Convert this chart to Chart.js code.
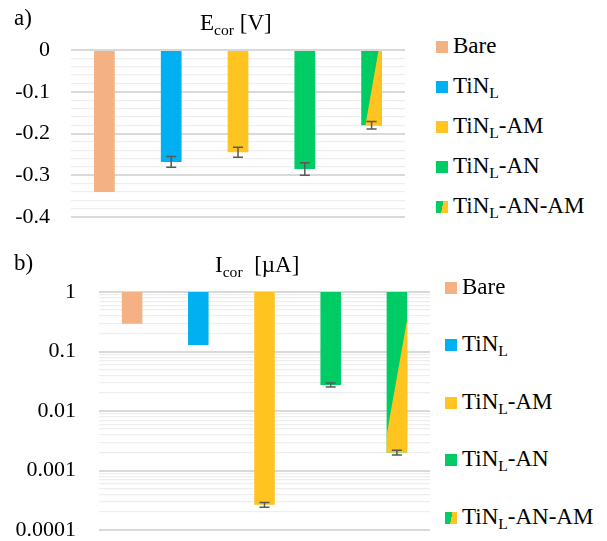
<!DOCTYPE html>
<html><head><meta charset="utf-8">
<script src="https://cdn.jsdelivr.net/npm/chart.js@4/dist/chart.umd.min.js"></script>
<style>
body{margin:0;width:607px;height:541px;position:relative;background:#fff;font-family:"Liberation Serif","Times New Roman",serif;overflow:hidden;color:#000}
.abs{position:absolute;white-space:nowrap}
.t{font-size:23px;line-height:22px}
sub{font-size:0.68em;vertical-align:-0.32em;line-height:0}
.sw{display:inline-block;width:12px;height:12px;margin-right:5px;vertical-align:baseline}
canvas{position:absolute;left:0}
</style>
</head><body>
<canvas id="c1" width="430" height="230" style="top:0px"></canvas>
<canvas id="c2" width="440" height="301" style="top:240px"></canvas>
<div id="overlay"></div>
<script>
// ---- data ----
const categories = ['Bare', 'TiN_L', 'TiN_L-AM', 'TiN_L-AN', 'TiN_L-AN-AM'];
const ecorValues = [-0.34, -0.268, -0.245, -0.285, -0.18];
const ecorErrors = [0, 0.013, 0.012, 0.015, 0.009];
const icorValues = [0.293, 0.129, 0.000266, 0.0274, 0.0020];
const icorErrors = [0, 0, 0.000024, 0.0022, 0.00018];
const ecorTickLabels = ['0', '-0.1', '-0.2', '-0.3', '-0.4'];
const icorTickLabels = ['1', '0.1', '0.01', '0.001', '0.0001'];
const legendLabels = ['Bare', 'TiN<sub>L</sub>', 'TiN<sub>L</sub>-AM', 'TiN<sub>L</sub>-AN', 'TiN<sub>L</sub>-AN-AM'];

// ---- styles ----
const GREEN = '#00CC66', YELLOW = '#FFC420';
const barColors = ['#F4B183', '#00B0F0', YELLOW, GREEN, GREEN];
const FONT = '"Liberation Serif", "Times New Roman", serif';

const overlayHtml = [];
function addText(html, left, baseline) {
  overlayHtml.push(`<div class="abs t" style="left:${left}px;top:${baseline - 18.4}px">${html}</div>`);
}
addText('a)', 14, 25);
addText('b)', 14, 270);
addText('E<sub>cor</sub> [V]', 200, 30);
addText('I<sub>cor</sub>&nbsp; [µA]', 215, 272);
function swatch(i) {
  if (i === 4) return `<span class="sw" style="background:linear-gradient(100deg, ${GREEN} 52%, ${YELLOW} 52%)"></span>`;
  return `<span class="sw" style="background:${barColors[i]}"></span>`;
}
legendLabels.forEach((lab, i) => {
  addText(swatch(i) + lab, 436, 53 + 40 * i);
  addText(swatch(i) + lab, 445, 294 + 57.5 * i);
});
document.getElementById('overlay').innerHTML = overlayHtml.join('');

// plugin: split fill of last bar + error bars
function makePlugin(errors, valueOf, split) {
  return {
    id: 'extras',
    afterDatasetsDraw(chart) {
      const ctx = chart.ctx;
      const meta = chart.getDatasetMeta(0);
      const ys = chart.scales.y;
      const el = meta.data[4];
      const l = el.x - el.width / 2, r = el.x + el.width / 2;
      const top = Math.min(el.y, el.base), bot = Math.max(el.y, el.base);
      const h = bot - top, w = r - l;
      ctx.save();
      ctx.fillStyle = YELLOW;
      ctx.beginPath();
      if (split === 'top') {
        ctx.moveTo(l + 0.83 * w, top); ctx.lineTo(r, top); ctx.lineTo(r, bot); ctx.lineTo(l + 0.2 * w, bot);
      } else {
        ctx.moveTo(r, top + 0.17 * h); ctx.lineTo(r, bot); ctx.lineTo(l, bot); ctx.lineTo(l, top + 0.89 * h);
      }
      ctx.closePath(); ctx.fill();
      ctx.strokeStyle = '#595959';
      ctx.lineWidth = 1.5;
      meta.data.forEach((b, i) => {
        const e = errors[i]; if (!e) return;
        const v = valueOf(i);
        const y1 = ys.getPixelForValue(v - e), y2 = ys.getPixelForValue(v + e);
        ctx.beginPath();
        ctx.moveTo(b.x, y1); ctx.lineTo(b.x, y2);
        ctx.moveTo(b.x - 5, y1); ctx.lineTo(b.x + 5, y1);
        ctx.moveTo(b.x - 5, y2); ctx.lineTo(b.x + 5, y2);
        ctx.stroke();
      });
      ctx.restore();
    }
  };
}

function isMajor(v) { const l = Math.log10(v); return Math.abs(l - Math.round(l)) < 1e-6; }

function build() {
  Chart.defaults.font.family = FONT;
  const common = {
    responsive: false, animation: false, devicePixelRatio: 1,
    plugins: { legend: { display: false }, tooltip: { enabled: false }, title: { display: false } },
  };

  new Chart(document.getElementById('c1'), {
    type: 'bar',
    data: { labels: categories, datasets: [{ data: ecorValues, backgroundColor: barColors, borderWidth: 0,
      barPercentage: 1, categoryPercentage: 0.31 }] },
    options: Object.assign({}, common, {
      layout: { padding: { left: 0, right: 25, top: 50, bottom: 13 } },
      scales: {
        x: { display: false },
        y: {
          min: -0.4, max: 0,
          afterFit(s) { s.width = 71; s.paddingTop = 0; s.paddingBottom = 0; },
          afterBuildTicks(s) { const t = []; for (let i = 0; i <= 20; i++) t.push({ value: -i * 0.02 }); s.ticks = t; },
          border: { display: false },
          grid: {
            drawTicks: false,
            color: c => (Math.round(c.tick.value * 50) % 5 === 0 ? '#D9D9D9' : '#EEEEEE'),
            lineWidth: c => (Math.round(c.tick.value * 50) % 5 === 0 ? 2 : 1.2),
          },
          ticks: {
            autoSkip: false, padding: 21, color: '#000', font: { family: FONT, size: 22 },
            callback(v) { const k = Math.round(-v * 50); return k % 5 === 0 ? ecorTickLabels[k / 5] : ''; }
          }
        }
      }
    }),
    plugins: [makePlugin(ecorErrors, i => ecorValues[i], 'top')]
  });

  new Chart(document.getElementById('c2'), {
    type: 'bar',
    data: { labels: categories, datasets: [{ data: icorValues.map(v => [v, 1]), backgroundColor: barColors, borderWidth: 0,
      barPercentage: 1, categoryPercentage: 0.31 }] },
    options: Object.assign({}, common, {
      layout: { padding: { left: 0, right: 10, top: 52, bottom: 11 } },
      scales: {
        x: { display: false },
        y: {
          type: 'logarithmic', min: 0.0001, max: 1,
          afterFit(s) { s.width = 99; s.paddingTop = 0; s.paddingBottom = 0; },
          afterBuildTicks(s) {
            const t = [];
            for (let e = -4; e <= 0; e++) for (let m = 1; m <= 9; m++) { if (e === 0 && m > 1) break; t.push({ value: m * Math.pow(10, e) }); }
            s.ticks = t;
          },
          border: { display: false },
          grid: {
            drawTicks: false,
            color: c => (isMajor(c.tick.value) ? '#D9D9D9' : '#EEEEEE'),
            lineWidth: c => (isMajor(c.tick.value) ? 2 : 1.2),
          },
          ticks: {
            autoSkip: false, padding: 23, color: '#000', font: { family: FONT, size: 22 },
            callback(v) { return isMajor(v) ? icorTickLabels[Math.round(-Math.log10(v))] : ''; }
          }
        }
      }
    }),
    plugins: [makePlugin(icorErrors, i => icorValues[i], 'bottom')]
  });
}

const fl = document.fonts && document.fonts.load ? document.fonts.load('22px "Liberation Serif"') : Promise.resolve();
fl.then(build, build);
</script>
</body></html>
